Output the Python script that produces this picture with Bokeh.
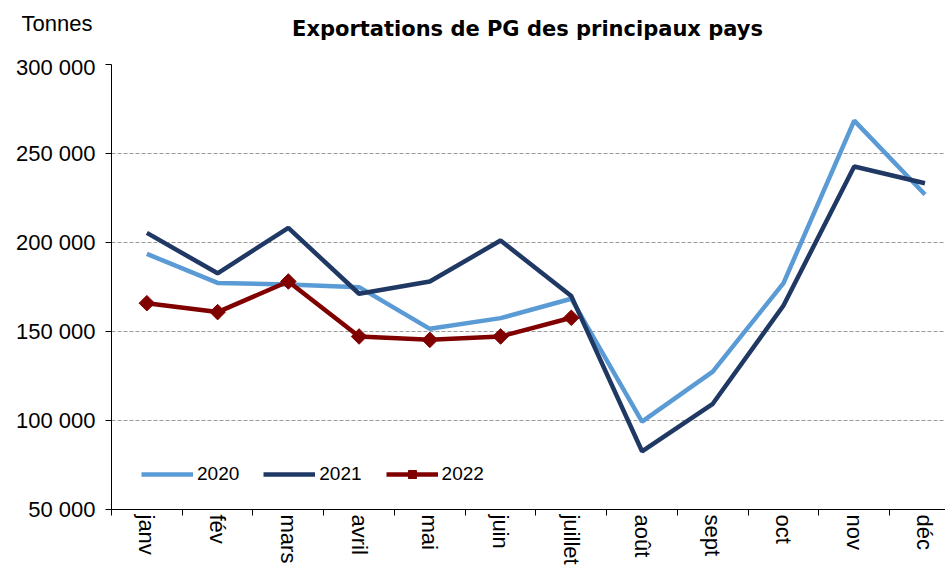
import numpy as np
from bokeh.plotting import figure
from bokeh.layouts import column
from bokeh.core.properties import value
from bokeh.models import (ColumnDataSource, FixedTicker, Legend, LegendItem, Range1d)
from bokeh.embed import file_html
from bokeh.resources import INLINE

# ---------------- data ----------------
months = ["janv", "fév", "mars", "avril", "mai", "juin", "juillet",
          "août", "sept", "oct", "nov", "déc"]
exports_2020 = [193600, 177300, 176400, 174900, 151500, 157500, 168400,
                99400, 127500, 177200, 268500, 227000]
exports_2021 = [205400, 182700, 208200, 171200, 178100, 201100, 169900,
                82700, 109400, 164600, 242700, 233300]
exports_2022 = [165900, 160900, 178100, 147200, 145300, 147200, 157700]
series_names = ["2020", "2021", "2022"]
y_ticks = [50000, 100000, 150000, 200000, 250000, 300000]
y_tick_labels = ["50 000", "100 000", "150 000", "200 000", "250 000", "300 000"]
title_text = "Exportations de PG des principaux pays"
unit_text = "Tonnes"

# ---------------- style ----------------
FONT = "Liberation Sans"
C2020 = "#5B9BD5"
C2021 = "#1F3864"
C2022 = "#800000"
W = 945
HEAD_H = 54

# ---------------- header strip (title + unit) ----------------
head = figure(width=W, height=HEAD_H, output_backend="svg", toolbar_location=None,
              title=None,
              x_range=Range1d(0, W), y_range=Range1d(HEAD_H, 0),
              x_axis_type=None, y_axis_type=None,
              min_border_left=0, min_border_right=0, min_border_top=0,
              min_border_bottom=0)
head.outline_line_color = None
head.grid.visible = False
head.background_fill_color = "white"
head.border_fill_color = "white"
head.text(x=[92], y=[23], text=[unit_text], text_align="right",
          text_baseline="alphabetic", text_font=value(FONT),
          text_font_size="22px", text_color="black")
head.text(x=[527], y=[28], text=[title_text], text_align="center",
          text_baseline="alphabetic", text_font=value("DejaVu Sans"),
          text_font_style="bold", text_font_size="21px", text_color="black")

# ---------------- main chart ----------------
x_start = -0.5
x_end = 11.29

p = figure(width=W, height=567 - HEAD_H, output_backend="svg", toolbar_location=None,
           title=None,
           x_range=Range1d(x_start, x_end), y_range=Range1d(y_ticks[0], y_ticks[-1]),
           min_border_left=111, min_border_right=0, min_border_top=10,
           min_border_bottom=58)
p.outline_line_color = None
p.background_fill_color = "white"
p.border_fill_color = "white"

# keep the two canvases independent (no frame alignment between them)
for fig in (head, p):
    if "frame_align" in fig.properties():
        fig.frame_align = False

# x axis: month labels at centres (major), tick marks at boundaries (minor)
centres = list(range(len(months)))
xa = p.xaxis[0]
xa.ticker = FixedTicker(ticks=centres,
                        minor_ticks=[c - 0.5 for c in centres] + [centres[-1] + 0.5])
xa.major_label_overrides = {c: m for c, m in zip(centres, months)}
xa.major_label_orientation = "vertical"
xa.major_label_text_font = FONT
xa.major_label_text_font_size = "22px"
xa.major_label_text_color = "black"
xa.major_label_standoff = -1
xa.major_tick_out = 0
xa.major_tick_in = 0
xa.minor_tick_out = 6
xa.minor_tick_in = 0
xa.axis_line_color = "black"
xa.minor_tick_line_color = "black"

ya = p.yaxis[0]
ya.ticker = FixedTicker(ticks=y_ticks)
ya.major_label_overrides = {t: l for t, l in zip(y_ticks, y_tick_labels)}
ya.major_label_text_font = FONT
ya.major_label_text_font_size = "22px"
ya.major_label_text_color = "black"
ya.major_label_standoff = 10
ya.major_tick_out = 6
ya.major_tick_in = 0
ya.minor_tick_out = 0
ya.minor_tick_in = 0
ya.axis_line_color = "black"
ya.major_tick_line_color = "black"

p.xgrid.visible = False
p.ygrid.ticker = FixedTicker(ticks=y_ticks)
p.ygrid.grid_line_color = "#9a9a9a"
p.ygrid.grid_line_dash = "4 2"
p.ygrid.grid_line_width = 1

# series
src20 = ColumnDataSource(dict(x=list(range(len(exports_2020))), y=exports_2020))
src21 = ColumnDataSource(dict(x=list(range(len(exports_2021))), y=exports_2021))
src22 = ColumnDataSource(dict(x=list(range(len(exports_2022))), y=exports_2022))

r20 = p.line("x", "y", source=src20, line_color=C2020, line_width=4.5)
r21 = p.line("x", "y", source=src21, line_color=C2021, line_width=4.5)
r22 = p.line("x", "y", source=src22, line_color=C2022, line_width=4.5)
m22 = p.scatter("x", "y", source=src22, marker="square", angle=np.pi / 4,
                size=11, fill_color=C2022, line_color=C2022)

legend = Legend(items=[LegendItem(label=series_names[0], renderers=[r20]),
                       LegendItem(label=series_names[1], renderers=[r21]),
                       LegendItem(label=series_names[2], renderers=[r22, m22])],
                orientation="horizontal", location=(30, 24), padding=0, margin=0,
                spacing=24, glyph_width=52, glyph_height=20, label_height=20,
                label_standoff=4, label_text_font=FONT, label_text_font_size="19px",
                label_text_color="black", background_fill_alpha=0,
                border_line_alpha=0)
p.add_layout(legend)

layout = column(head, p, spacing=0)
open("out.html", "w").write(file_html(layout, INLINE))
